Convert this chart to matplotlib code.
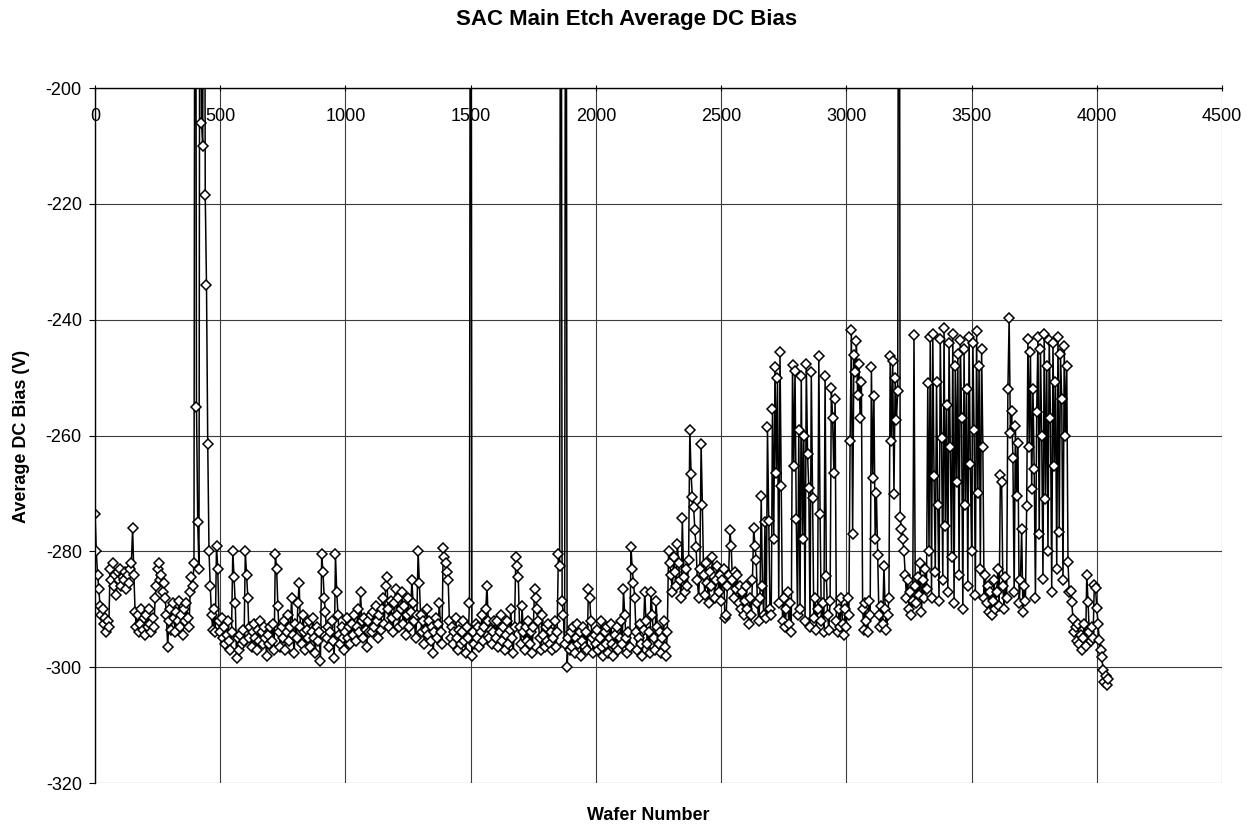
import numpy as np
import matplotlib.pyplot as plt

plt.rcParams["font.family"] = ["Liberation Sans", "DejaVu Sans"]
plt.rcParams["axes.unicode_minus"] = False

# ── Average DC bias (V), one reading every 5 wafers, in blocks of 500 ──
# readings of -100 are off the top of the scale (plasma faults)
bias_0000 = [
    -273.5, -280, -284, -286.5, -289.5, -291, -290, -292.5, -291.5, -294, -292, -293, -283, -285, -282, -286, -284, -287.5, -283.5, -285,
    -283, -286, -284.5, -285, -283.5, -286.5, -284, -285.5, -283, -282, -276, -284, -290.5, -293, -291, -294, -292.5, -290, -293.5, -291.5,
    -294.5, -291, -293, -290, -292.5, -294, -291.5, -293, -288, -286, -283, -282, -285, -284, -287, -285.5, -288, -291, -296.5, -292,
    -290, -293.5, -289, -291.5, -294, -290.5, -292, -288.5, -293, -291, -294.5, -290, -292, -289, -291.5, -293, -287, -284.5, -286, -282,
    -100, -255, -275, -283, -100, -206, -210, -100, -218.5, -234, -261.5, -280, -286, -291, -293.5, -290, -294, -279, -283, -292,
]
bias_0500 = [
    -294, -291.5, -295, -293, -296, -294.5, -292, -295.5, -297, -294, -280, -284.5, -289, -298.5, -295, -297, -294.5, -296, -293.5, -295.5,
    -280, -284, -288, -295, -293, -296.5, -294, -292.5, -295, -297, -293.5, -295.5, -292, -294, -296, -293, -295, -298, -294.5, -296,
    -293, -295.5, -292.5, -297, -280.5, -283, -289.5, -294, -296.5, -293, -295, -292, -297, -294, -291, -295.5, -293, -288, -294.5, -297.5,
    -292.5, -295, -289, -285.5, -293, -296, -291, -294, -297, -293.5, -295, -292, -296.5, -294, -291.5, -295, -297.5, -293, -295.5, -294,
    -299, -280.5, -283.5, -288, -290.5, -295, -293, -296.5, -294, -292, -295.5, -298.5, -280.5, -287, -291, -294.5, -296, -293, -295, -297,
]
bias_1000 = [
    -294, -291.5, -295, -293, -296, -292.5, -294.5, -291, -295.5, -293, -290, -294, -287, -292, -295, -291.5, -293.5, -296.5, -292, -294,
    -291, -294, -290.5, -293, -289.5, -292, -295, -291, -293.5, -290, -288, -292.5, -286, -284.5, -290, -293, -288.5, -291.5, -294, -289,
    -286.5, -291, -288, -293, -290, -287, -292.5, -289.5, -294.5, -291, -288, -293, -290.5, -285, -289, -292, -295, -291, -280, -285.5,
    -291, -294, -292, -296, -293.5, -290, -294.5, -292, -295.5, -293, -297.5, -294, -291.5, -295, -292.5, -289, -294, -296, -279.5, -281,
    -282, -283.5, -285, -292, -295, -293, -296, -294, -291.5, -295, -297, -293.5, -296, -294, -292, -295.5, -297.5, -293, -295, -289,
]
bias_1500 = [
    -100, -298, -294, -296, -292.5, -295, -293, -296.5, -294, -291, -295.5, -293, -290, -286, -292, -295, -293.5, -296, -294, -292,
    -295, -292, -296.5, -294, -291, -295.5, -293, -297, -294.5, -292, -296, -293.5, -290, -295, -297.5, -293, -281, -282.5, -284.5, -293,
    -296, -289.5, -294, -297, -293, -295.5, -292, -296, -294, -297.5, -293, -286.5, -288, -290, -292, -295, -297, -291, -294.5, -296.5,
    -293, -295.5, -292.5, -296, -294, -297, -295, -292, -296.5, -294, -280.5, -282.5, -100, -288.5, -291, -296, -100, -300, -295, -297,
    -294, -296.5, -293, -297.5, -295, -292.5, -296, -294, -298, -295.5, -293, -296.5, -294, -297, -286.5, -288, -292, -295, -297.5, -294.5,
]
bias_2000 = [
    -296, -293.5, -297, -295, -292, -296.5, -298, -294, -296, -293, -297.5, -295, -292.5, -296, -298, -294.5, -296.5, -293, -297, -295,
    -292, -296, -286.5, -291, -295, -297.5, -294, -296.5, -279.3, -283, -285.5, -288, -294, -297, -295, -292.5, -296, -298, -293.5, -287,
    -292, -296, -294, -297.5, -287, -291, -295, -297, -288.5, -293, -296, -294, -297.5, -295, -292, -296.5, -298, -294, -280, -282,
    -284, -287, -281, -283.5, -286, -278.7, -282, -285, -288, -274.3, -284.5, -287, -283, -286, -281.5, -259, -266.7, -270.6, -272.3, -276.3,
    -279.3, -285, -288, -283, -261.5, -272, -284, -287.5, -282, -285.5, -289, -283.5, -286, -281, -284.5, -288, -285, -282.5, -287, -284,
]
bias_2500 = [
    -288.5, -285, -283, -291.5, -291, -286, -284, -276.4, -279, -285, -288, -283.5, -286.5, -284, -289, -286, -290, -287, -291, -288.5,
    -286, -290, -292.5, -288, -291, -285, -276, -279, -281.5, -289, -292, -288, -270.5, -286, -291, -275, -291.5, -258.6, -274.7, -290,
    -291, -255.4, -277.8, -248.2, -266.5, -250.1, -289, -245.5, -268.7, -292, -288, -293, -290, -287, -292.5, -289, -294, -247.8, -265.3, -248.8,
    -274.4, -291, -259, -290, -249.7, -277.9, -260, -292, -247.7, -263.2, -269, -293, -249.1, -270.8, -291.5, -288, -293.5, -290, -246.3, -273.6,
    -292, -289, -294, -249.8, -284.2, -291, -293.5, -288.5, -251.8, -256.9, -266.4, -253.7, -292, -294, -290, -293, -288, -292.5, -294.5, -290,
]
bias_3000 = [
    -293, -288, -291, -260.9, -241.7, -277, -246.1, -249.1, -243.6, -253, -247.7, -257, -250.8, -290, -293.5, -289, -292, -294, -288.5, -291,
    -248.2, -267.4, -253.1, -277.9, -270, -280.6, -291, -293, -289.5, -292.5, -282.5, -290, -293.5, -291, -288, -246.3, -260.9, -247.1, -270.1, -250,
    -257.4, -252.3, -100, -274, -276.2, -277.9, -280, -284, -288, -285, -290, -287, -291, -288.5, -242.6, -286, -289, -284.5, -287.5, -282,
    -290.5, -285, -288, -283, -286.5, -251, -280, -243, -288, -242.5, -267, -283.6, -250.8, -272, -288.5, -243.3, -260.4, -285, -241.5, -275.6,
    -254.7, -287, -244, -262, -281, -242.5, -289, -248, -268, -246, -284, -243.5, -257, -290, -245, -272, -252, -286, -243, -265,
]
bias_3500 = [
    -280, -244, -259, -287.5, -242, -270, -248, -283, -245, -262, -288, -284, -289, -286, -290.5, -287, -291, -288.5, -285, -290,
    -287, -283, -289.5, -266.9, -268, -286, -290, -284.5, -288, -252, -239.7, -259.5, -255.7, -263.8, -287, -258.4, -270.5, -261.3, -289, -285,
    -276.2, -290.5, -286, -288.5, -272.1, -243.3, -262, -245.6, -269.2, -252, -265.8, -288, -256, -243, -277, -245, -260, -284.8, -242.5, -271,
    -248, -280, -243.5, -257, -287, -244, -265.2, -250.8, -283, -243, -276.7, -246, -253.7, -285, -244.5, -260, -248, -281.9, -287.1, -286.8,
    -288.8, -291.7, -294, -293, -295.5, -292.5, -296, -294.5, -297, -295, -292.5, -296.3, -284, -288.7, -294, -295.5, -293, -295, -285.8, -286.4,
]
bias_4000 = [-289.8, -292.5, -295.3, -297, -298.2, -300.5, -302.5, -301.5, -303, -302]

blocks = [(0, bias_0000), (500, bias_0500), (1000, bias_1000), (1500, bias_1500),
          (2000, bias_2000), (2500, bias_2500), (3000, bias_3000), (3500, bias_3500),
          (4000, bias_4000)]
wafer = np.concatenate([start + 5 * np.arange(len(v)) for start, v in blocks])
bias = np.concatenate([np.array(v, dtype=float) for _, v in blocks])

# ── Chart ──────────────────────────────────────────────────
fig = plt.figure(figsize=(12.49, 8.25), dpi=100)
ax = fig.add_axes([0.0761, 0.0509, 0.9023, 0.8424])

ax.plot(wafer, bias, color="black", lw=1.1, marker="D", ms=5.3,
        mfc="white", mec="black", mew=1.1)

ax.set_xlim(0, 4500)
ax.set_ylim(-320, -200)
ax.set_xticks(range(0, 4501, 500))
ax.set_yticks(range(-320, -199, 20))
ax.grid(True, color="#3c3c3c", lw=0.8)
ax.set_axisbelow(True)

for side in ["bottom", "right"]:
    ax.spines[side].set_visible(False)
for side in ["top", "left"]:
    ax.spines[side].set_color("black")
    ax.spines[side].set_linewidth(1.0)

# x axis sits on the -200 line, labels hang inside the plot
ax.xaxis.set_ticks_position("top")
ax.tick_params(axis="x", direction="inout", length=5, pad=-17, labelsize=13,
               labeltop=True, labelbottom=False)
plt.setp(ax.get_xticklabels(), va="top")
ax.tick_params(axis="y", direction="out", length=4.5, pad=5, labelsize=13)

fig.text(0.502, 0.9758, "SAC Main Etch Average DC Bias", ha="center", va="center",
         fontsize=16, fontweight="bold")
fig.text(0.519, 0.0121, "Wafer Number", ha="center", va="center",
         fontsize=13, fontweight="bold")
fig.text(0.0176, 0.4715, "Average DC Bias (V)", ha="center", va="center",
         rotation=90, fontsize=13, fontweight="bold")

fig.patch.set_facecolor("white")
fig.savefig("out.png", dpi=100)
